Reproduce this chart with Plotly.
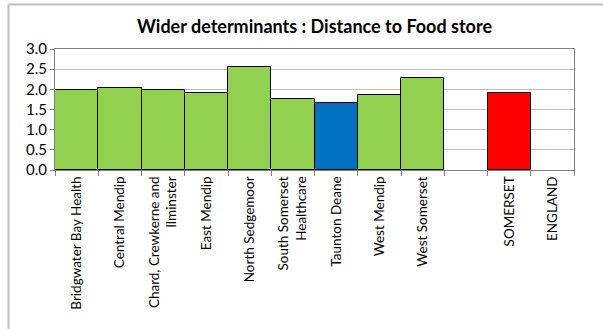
import plotly.graph_objects as go

categories = ["Bridgwater Bay Health", "Central Mendip", "Chard, Crewkerne and<br>Ilminster",
              "East Mendip", "North Sedgemoor", "South Somerset<br>Healthcare", "Taunton Deane",
              "West Mendip", "West Somerset", " ", "SOMERSET", "ENGLAND"]
values = [1.99, 2.03, 1.99, 1.92, 2.55, 1.77, 1.65, 1.85, 2.27, None, 1.91, None]
colors = ["#92D050"] * 6 + ["#0070C0"] + ["#92D050"] * 2 + ["#FFFFFF", "#FF0000", "#FFFFFF"]
y_ticks = [0.0, 0.5, 1.0, 1.5, 2.0, 2.5, 3.0]

fig = go.Figure()
fig.add_trace(go.Bar(
    x=categories, y=values,
    marker=dict(color=colors, line=dict(color="#000000", width=1)),
    hoverinfo="x+y",
))

L, R, T, B = 55, 29, 49, 159
W, H = 603, 329
pw, ph = W - L - R, H - T - B

border_x = (8.5 - L) / pw
border_top = (ph + T - 4.5) / ph

fig.update_layout(
    width=W, height=H,
    margin=dict(l=L, r=R, t=T, b=B, autoexpand=False),
    paper_bgcolor="white", plot_bgcolor="white",
    bargap=0,
    showlegend=False,
    font=dict(family="Lato, Open Sans, sans-serif", color="#000000"),
    title=dict(text="<b>Wider determinants : Distance to Food store</b>",
               x=(L + pw / 2) / W, xanchor="center", y=1 - 27 / H, yanchor="middle",
               font=dict(size=18, family="Lato, Open Sans, sans-serif")),
    xaxis=dict(
        type="category", tickangle=-90, tickfont=dict(size=13.5),
        showline=True, linecolor="#808080", linewidth=1, mirror=True,
        ticks="outside", ticklen=5, tickcolor="#808080", tickson="boundaries",
        showgrid=False, automargin=False,
    ),
    yaxis=dict(
        range=[0, 3], tickvals=y_ticks, ticktext=[f"{v:.1f}" for v in y_ticks],
        tickfont=dict(size=15),
        showline=True, linecolor="#808080", linewidth=1, mirror=True,
        ticks="outside", ticklen=4, tickcolor="#808080",
        showgrid=True, gridcolor="#BFBFBF", gridwidth=1, zeroline=False, automargin=False,
    ),
    shapes=[
        dict(type="line", xref="paper", yref="paper",
             x0=border_x, x1=border_x, y0=-B / ph, y1=border_top,
             line=dict(color="#BFBFBF", width=2), layer="below"),
        dict(type="line", xref="paper", yref="paper",
             x0=border_x, x1=1 + R / pw, y0=border_top, y1=border_top,
             line=dict(color="#BFBFBF", width=2), layer="below"),
    ],
)

fig.write_html(
    "out.html", config={"displayModeBar": False},
    post_script=("document.body.style.margin='0';document.body.style.overflow='hidden';"
                 "document.documentElement.style.overflow='hidden';"),
)
